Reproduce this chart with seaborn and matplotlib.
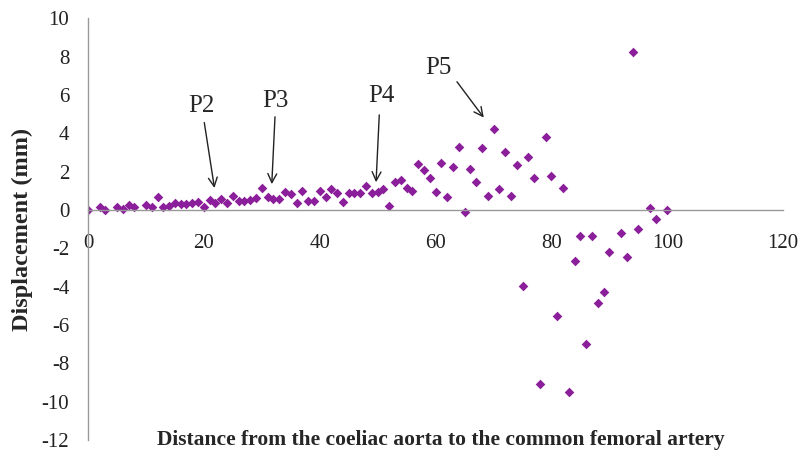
import matplotlib
matplotlib.use('Agg')
import matplotlib.pyplot as plt
import seaborn as sns
import pandas as pd

# distance along the aorta
distance = [0, 2, 3, 5, 6, 7, 8, 10, 11, 12, 13, 14, 15, 16, 17, 18, 19, 20, 21, 22, 23, 24, 25,
            26, 27, 28, 29, 30, 31, 32, 33, 34, 35, 36, 37, 38, 39, 40, 41, 42, 43, 44, 45, 46,
            47, 48, 49, 50, 51, 52, 53, 54, 55, 56, 57, 58, 59, 60, 61, 62, 63, 64, 65, 66, 67,
            68, 69, 70, 71, 72, 73, 74, 75, 76, 77, 78, 79, 80, 81, 82, 83, 84, 85, 86, 87, 88,
            89, 90, 92, 93, 94, 95, 97, 98, 100]

displacement = [0.0, 0.14, 0.02, 0.14, 0.07, 0.26, 0.14, 0.26, 0.17, 0.69, 0.17, 0.21, 0.35, 0.30,
                0.30, 0.38, 0.43, 0.14, 0.52, 0.35, 0.56, 0.35, 0.73, 0.47, 0.47, 0.52, 0.61, 1.13,
                0.66, 0.56, 0.59, 0.95, 0.83, 0.38, 1.01, 0.48, 0.48, 1.01, 0.66, 1.08, 0.90, 0.42,
                0.90, 0.90, 0.90, 1.27, 0.90, 0.95, 1.08, 0.21, 1.44, 1.56, 1.13, 1.01, 2.37, 2.08,
                1.65, 0.95, 2.45, 0.65, 2.22, 3.30, -0.09, 2.15, 1.46, 3.24, 0.71, 4.20, 1.08, 3.01,
                0.73, 2.36, -3.96, 2.74, 1.68, -9.06, 3.82, 1.76, -5.52, 1.13, -9.48, -2.64, -1.35,
                -6.98, -1.35, -4.86, -4.26, -2.17, -1.21, -2.46, 8.23, -1.01, 0.10, -0.45, 0.0]

# point labels: text position, arrow tail, arrow head
point_labels = ['P2', 'P3', 'P4', 'P5']
label_pos = [(19.6, 5.4), (32.3, 5.7), (50.7, 5.95), (60.5, 7.4)]
arrow_tail = [(20.0, 4.7), (32.3, 5.0), (50.3, 5.1), (63.4, 6.8)]
arrow_head = [(21.9, 1.0), (31.7, 1.2), (49.7, 1.3), (68.6, 4.7)]

df = pd.DataFrame({'distance': distance, 'displacement': displacement})

sns.set_style('white')
plt.rcParams['font.family'] = ['Liberation Serif', 'DejaVu Serif']
plt.rcParams['axes.unicode_minus'] = False

fig = plt.figure(figsize=(8, 4.55), dpi=100)
ax = fig.add_axes([0.11, 0.033, 0.869, 0.927])

sns.scatterplot(x='distance', y='displacement', data=df, ax=ax, marker='D',
                color='#8b1e9a', s=24, linewidth=0)

ax.set_xlim(0, 120)
ax.set_ylim(-12, 10)
ax.set_xticks(range(0, 121, 20))
ax.set_yticks(range(-12, 11, 2))

# excel style axes: x axis crosses at zero
ax.spines['bottom'].set_position(('data', 0))
ax.spines['top'].set_visible(False)
ax.spines['right'].set_visible(False)
for side in ['bottom', 'left']:
    ax.spines[side].set_color('#999999')
    ax.spines[side].set_linewidth(1)
ax.tick_params(axis='both', direction='out', length=4.5, width=1, color='#999999',
               labelsize=15, labelcolor='#222222')
ax.tick_params(axis='y', pad=9)
ax.tick_params(axis='x', pad=13)

ax.set_xlabel('')
ax.set_ylabel('Displacement (mm)', fontsize=17.5, fontweight='bold')
ax.yaxis.set_label_coords(-0.079, 0.5)
fig.text(441 / 800, 1 - 440 / 455, 'Distance from the coeliac aorta to the common femoral artery',
         ha='center', va='center', fontsize=15.5, fontweight='bold')

for lab, pos, tail, head in zip(point_labels, label_pos, arrow_tail, arrow_head):
    ax.text(pos[0], pos[1], lab, ha='center', va='center', fontsize=18)
    ax.annotate('', xy=head, xytext=tail,
                arrowprops=dict(arrowstyle='->', color='#222222', lw=1, mutation_scale=16))

fig.savefig('out.png', dpi=100)
